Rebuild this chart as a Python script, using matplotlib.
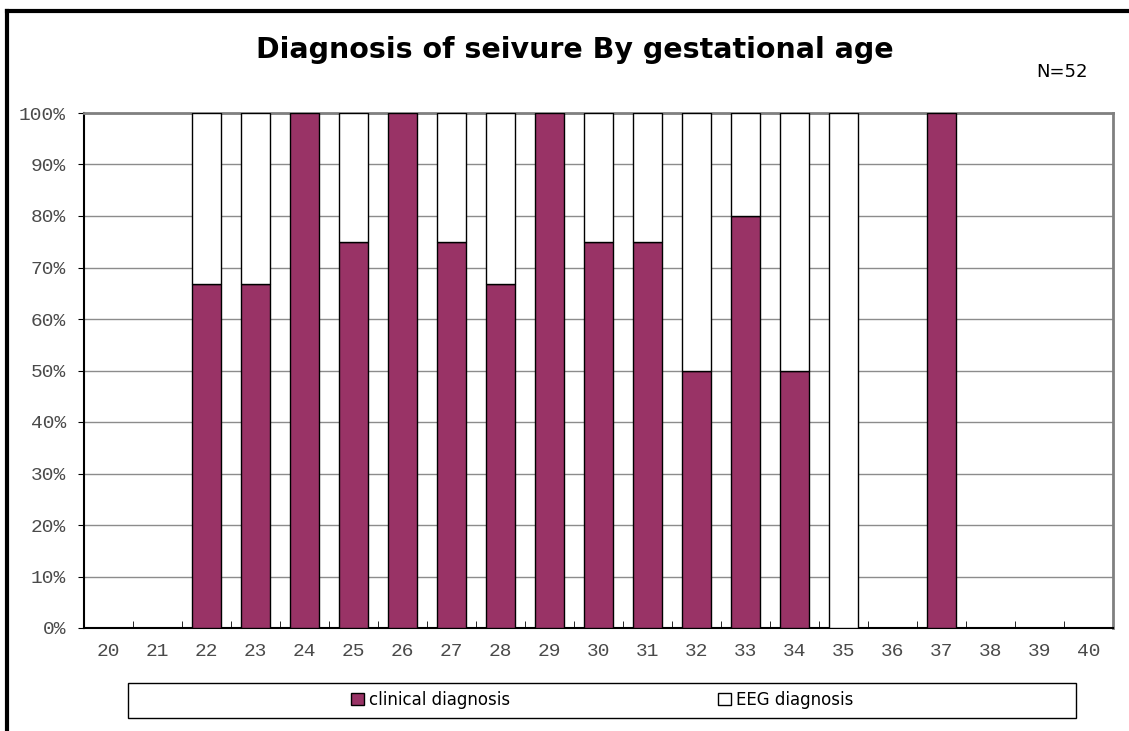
import numpy as np
import matplotlib.pyplot as plt
from matplotlib.lines import Line2D
from matplotlib.patches import Rectangle

weeks = list(range(20, 41))
# share of clinical diagnosis per gestational week (%); 0 where no cases
clinical = [0, 0, 66.7, 66.7, 100, 75, 100, 75, 66.7, 100, 75, 75, 50, 80, 50, 0, 0, 100, 0, 0, 0]
eeg = [0, 0, 33.3, 33.3, 0, 25, 0, 25, 33.3, 0, 25, 25, 50, 20, 50, 100, 0, 0, 0, 0, 0]

plum = '#993366'
mono = 'Liberation Mono'

fig = plt.figure(figsize=(11.29, 7.31), dpi=100)
ax = fig.add_axes([84/1129, 1 - 628/731, (1113 - 84)/1129, (628 - 113)/731])

x = np.arange(len(weeks))
clin = np.array(clinical, dtype=float)
eg = np.array(eeg, dtype=float)
m1 = clin > 0
m2 = eg > 0
ax.bar(x[m1], clin[m1], width=0.6, color=plum, edgecolor='black', linewidth=1, zorder=3,
       label='clinical diagnosis')
ax.bar(x[m2], eg[m2], bottom=clin[m2], width=0.6, color='white', edgecolor='black',
       linewidth=1, zorder=3, label='EEG diagnosis')

ax.set_xlim(-0.5, len(weeks) - 0.5)
ax.set_ylim(0, 100)
ax.set_yticks(np.arange(0, 101, 10))
ax.set_yticklabels([f'{v}%' for v in range(0, 101, 10)], fontfamily=mono, fontsize=14, color='#4a4a4a')
ax.yaxis.grid(True, color='#8c8c8c', linewidth=1, zorder=0)
ax.tick_params(axis='y', direction='out', length=4, pad=9, color='black')

ax.set_xticks(x)
ax.set_xticklabels([str(w) for w in weeks], fontfamily=mono, fontsize=14, color='#4a4a4a')
ax.set_xticks(np.arange(0.5, len(weeks) - 1, 1), minor=True)
ax.tick_params(axis='x', which='major', length=0, pad=11)
ax.tick_params(axis='x', which='minor', direction='in', length=5, color='black')

for s in ['left', 'bottom']:
    ax.spines[s].set_color('black')
    ax.spines[s].set_linewidth(1.5)
for s in ['top', 'right']:
    ax.spines[s].set_color('#808080')
    ax.spines[s].set_linewidth(2)

fig.text(575/1129, 1 - 50/731, 'Diagnosis of seivure By gestational age', ha='center', va='center',
         fontsize=20.5, fontweight='bold')
fig.text(1062/1129, 1 - 72/731, 'N=52', ha='center', va='center', fontsize=13)

# legend box
fig.patches.append(Rectangle((128/1129, 1 - 718/731), 948/1129, 35/731, transform=fig.transFigure,
                             facecolor='white', edgecolor='black', linewidth=1))
fig.legend(loc='center', bbox_to_anchor=(602/1129, 1 - 700/731), ncol=2, frameon=False,
           fontsize=12, handlelength=0.75, handleheight=0.75, handletextpad=0.3,
           columnspacing=12.5)

# outer frame (left and top edges)
fig.add_artist(Line2D([7/1129, 7/1129], [0, 1 - 11/731], transform=fig.transFigure, color='black', linewidth=3))
fig.add_artist(Line2D([7/1129, 1], [1 - 11/731, 1 - 11/731], transform=fig.transFigure, color='black', linewidth=3))

fig.savefig('out.png', dpi=100)
